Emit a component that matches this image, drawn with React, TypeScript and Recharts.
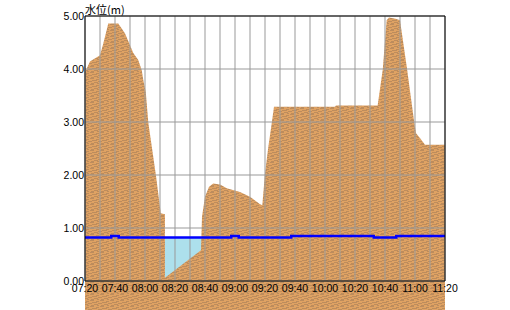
import { ComposedChart, Area, Line, XAxis, YAxis, CartesianGrid, ReferenceArea, ReferenceLine } from 'recharts'

// minutes after 07:20
const groundMinutes = [0.2, 3.3, 10, 12.2, 14.5, 15.5, 22.2, 26.7, 30, 32.2, 35.5, 37.8, 38.9, 40.5, 42.2, 47.3, 50.5, 53.3, 53.3, 77.3, 78, 80, 82.7, 85.5, 90, 94.5, 103.3, 110, 116.7, 118.2, 120, 122.2, 124.5, 126, 166.7, 167.3, 195.1, 198.5, 201.1, 202.7, 207, 210, 214.7, 219.5, 220.7, 223.3, 226.7, 240]
const groundLevels = [3.95, 4.14, 4.26, 4.48, 4.74, 4.86, 4.86, 4.67, 4.45, 4.3, 4.17, 3.98, 3.79, 3.57, 2.99, 1.99, 1.28, 1.26, 0.06, 0.58, 1.21, 1.59, 1.78, 1.84, 1.82, 1.75, 1.68, 1.59, 1.45, 1.43, 2.03, 2.53, 2.98, 3.29, 3.29, 3.31, 3.31, 3.99, 4.92, 4.97, 4.95, 4.92, 4.0, 2.99, 2.79, 2.7, 2.57, 2.57]

// water level every 5 minutes
const waterMinutes = [0, 5, 10, 15, 20, 25, 30, 35, 40, 45, 50, 55, 60, 65, 70, 75, 80, 85, 90, 95, 100, 105, 110, 115, 120, 125, 130, 135, 140, 145, 150, 155, 160, 165, 170, 175, 180, 185, 190, 195, 200, 205, 210, 215, 220, 225, 230, 235, 240]
const waterLevels = [0.82, 0.82, 0.82, 0.82, 0.85, 0.82, 0.82, 0.82, 0.82, 0.82, 0.82, 0.82, 0.82, 0.82, 0.82, 0.82, 0.82, 0.82, 0.82, 0.82, 0.85, 0.82, 0.82, 0.82, 0.82, 0.82, 0.82, 0.82, 0.85, 0.85, 0.85, 0.85, 0.85, 0.85, 0.85, 0.85, 0.85, 0.85, 0.85, 0.82, 0.82, 0.82, 0.85, 0.85, 0.85, 0.85, 0.85, 0.85, 0.85]

const xTicks = [0, 10, 20, 30, 40, 50, 60, 70, 80, 90, 100, 110, 120, 130, 140, 150, 160, 170, 180, 190, 200, 210, 220, 230, 240]
const xTickLabels = ['07:20', '', '07:40', '', '08:00', '', '08:20', '', '08:40', '', '09:00', '', '09:20', '', '09:40', '', '10:00', '', '10:20', '', '10:40', '', '11:00', '', '11:20']
const yTicks = [0, 1, 2, 3, 4, 5]

const groundData = groundMinutes.map((t, i) => ({ t, level: groundLevels[i] }))
const waterData = waterMinutes.map((t, i) => ({ t, level: waterLevels[i] }))

const tickStyle = { fontSize: 10.5, fill: '#000', fontFamily: 'Liberation Sans, Arial, sans-serif' }

export default function App() {
  return (
    <div style={{ position: 'absolute', left: 0, top: 0, width: 510, height: 310 }}>
      <div style={{ position: 'absolute', left: 85, top: 2, fontSize: 11, fontFamily: 'Noto Sans CJK JP', color: '#000', lineHeight: '14px' }}>
        水位(m)
      </div>
      <ComposedChart width={510} height={310} margin={{ top: 16, right: 65, bottom: 0, left: 45 }}>
        <defs>
          <pattern id="soil" patternUnits="userSpaceOnUse" width="10" height="6">
            <rect width="10" height="6" fill="#DFA263" />
            <rect x="0" y="0" width="4" height="1" fill="#BD8C5C" />
            <rect x="6" y="1" width="3" height="1" fill="#BD8C5C" />
            <rect x="2" y="2" width="5" height="1" fill="#BD8C5C" />
            <rect x="8" y="3" width="2" height="1" fill="#BD8C5C" />
            <rect x="0" y="3" width="2" height="1" fill="#BD8C5C" />
            <rect x="4" y="4" width="4" height="1" fill="#BD8C5C" />
            <rect x="1" y="5" width="3" height="1" fill="#BD8C5C" />
            <rect x="7" y="5" width="2" height="1" fill="#BD8C5C" />
          </pattern>
        </defs>
        <XAxis
          dataKey="t"
          type="number"
          domain={[0, 240]}
          ticks={xTicks}
          interval={0}
          tickFormatter={(v: number) => xTickLabels[xTicks.indexOf(v)] ?? ''}
          height={29}
          tickSize={0}
          tickMargin={4}
          tick={tickStyle}
          axisLine={{ stroke: '#000' }}
          zIndex={600}
        />
        <YAxis
          type="number"
          domain={[0, 5]}
          ticks={yTicks}
          interval={0}
          tickFormatter={(v: number) => v.toFixed(2)}
          width={40}
          tickSize={0}
          tickMargin={1}
          tick={tickStyle}
          axisLine={{ stroke: '#000' }}
          zIndex={600}
        />
        <ReferenceArea x1={0} x2={240} y1={-0.55} y2={0} ifOverflow="visible" fill="url(#soil)" fillOpacity={1} stroke="none" />
        <Area data={waterData} dataKey="level" type="step" fill="#ADE0EC" fillOpacity={1} stroke="none" isAnimationActive={false} />
        <Area data={groundData} dataKey="level" type="linear" fill="url(#soil)" fillOpacity={1} stroke="none" isAnimationActive={false} />
        <CartesianGrid stroke="#999" strokeWidth={1} zIndex={150} />
        <Line data={waterData} dataKey="level" type="step" stroke="#0000FF" strokeWidth={2.5} dot={false} activeDot={false} zIndex={300} isAnimationActive={false} />
        <ReferenceLine y={5} stroke="#000" strokeWidth={1} zIndex={600} />
        <ReferenceLine x={240} stroke="#000" strokeWidth={1} zIndex={600} />
      </ComposedChart>
    </div>
  )
}
